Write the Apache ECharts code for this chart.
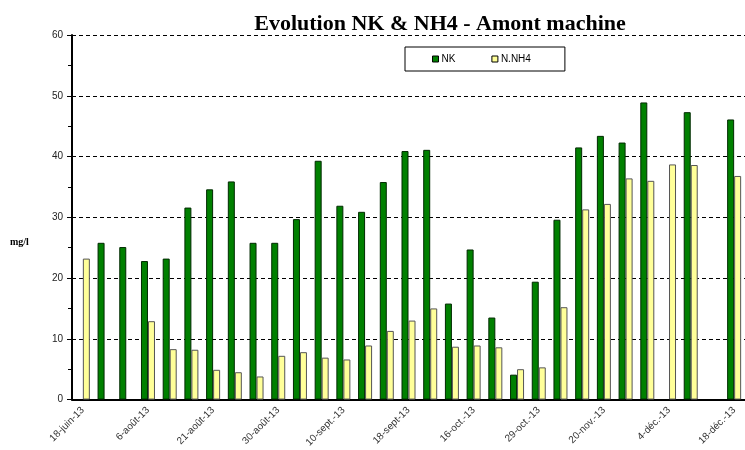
<!DOCTYPE html>
<html>
<head>
<meta charset="utf-8">
<script src="https://cdn.jsdelivr.net/npm/echarts@6/dist/echarts.min.js"></script>
<style>
  html, body { margin: 0; padding: 0; background: #fff; }
  #chart { width: 745px; height: 450px; }
</style>
</head>
<body>
<div id="chart"></div>
<script>
// dates: only every 3rd one is printed on the axis
var categories = [
  '18-juin-13', '', '', '6-août-13', '', '', '21-août-13', '', '', '30-août-13', '', '',
  '10-sept.-13', '', '', '18-sept-13', '', '', '16-oct.-13', '', '', '29-oct.-13', '', '',
  '20-nov.-13', '', '', '4-déc.-13', '', '', '18-déc.-13'
]
var nkData = [
  null, 25.8, 25.1, 22.8, 23.2, 31.6, 34.6, 35.9, 25.8, 25.8, 29.7, 39.3, 31.9, 30.9, 35.8,
  40.9, 41.1, 15.8, 24.7, 13.5, 4.1, 19.4, 29.6, 41.5, 43.4, 42.3, 48.9, null, 47.3, null, 46.1
]
var nh4Data = [
  23.2, null, null, 12.9, 8.3, 8.2, 4.9, 4.5, 3.8, 7.2, 7.8, 6.9, 6.6, 8.9, 11.3,
  13.0, 15.0, 8.7, 8.9, 8.6, 5.0, 5.3, 15.2, 31.3, 32.2, 36.4, 36.0, 38.7, 38.6, null, 36.8
]
var yTicks = { min: 0, max: 60, step: 10 }

var chart = echarts.init(document.getElementById('chart'))
var option = {
  animation: false,
  title: {
    text: 'Evolution NK & NH4 - Amont machine',
    left: 435,
    textAlign: 'center',
    top: 8,
    textStyle: {
      fontFamily: 'Liberation Serif',
      fontWeight: 'bold',
      fontSize: 22,
      color: '#000'
    }
  },
  graphic: [
    {
      type: 'text',
      left: 10,
      top: 237,
      style: {
        text: 'mg/l',
        font: 'bold 10px "Liberation Serif"',
        fill: '#000'
      }
    }
  ],
  legend: {
    data: ['NK', 'N.NH4'],
    left: 405,
    top: 47,
    padding: [7, 34, 7, 27],
    itemGap: 36,
    itemWidth: 6,
    itemHeight: 6,
    icon: 'rect',
    borderColor: '#000',
    borderWidth: 1,
    itemStyle: { borderColor: '#000', borderWidth: 1 },
    textStyle: { fontFamily: 'Liberation Sans', fontSize: 10, color: '#000', padding: [0, 0, 0, -2] }
  },
  grid: {
    left: 72,
    top: 35,
    right: -10,
    bottom: 48
  },
  xAxis: {
    type: 'category',
    data: categories,
    axisLine: { lineStyle: { color: '#000', width: 2 } },
    axisTick: { interval: 0, length: 4, lineStyle: { color: '#000', width: 1 } },
    axisLabel: {
      interval: 2,
      rotate: 45,
      margin: 9,
      fontFamily: 'Liberation Sans',
      fontSize: 10,
      color: '#333'
    }
  },
  yAxis: {
    type: 'value',
    min: yTicks.min,
    max: yTicks.max,
    interval: yTicks.step,
    axisLine: { show: true, lineStyle: { color: '#000', width: 2 } },
    axisTick: { show: true, length: 5, lineStyle: { color: '#000' } },
    minorTick: { show: true, splitNumber: 2, length: 4, lineStyle: { color: '#000' } },
    axisLabel: { fontFamily: 'Liberation Sans', fontSize: 10, color: '#222', margin: 9 },
    splitLine: { lineStyle: { color: '#000', type: [4, 3], width: 1 } }
  },
  series: [
    {
      name: 'NK',
      type: 'bar',
      data: nkData,
      barWidth: 7,
      barGap: '0%',
      itemStyle: { color: '#008000', borderColor: '#002a00', borderWidth: 1 }
    },
    {
      name: 'N.NH4',
      type: 'bar',
      data: nh4Data,
      barWidth: 7,
      itemStyle: { color: '#ffff99', borderColor: '#555', borderWidth: 1 }
    }
  ]
}
chart.setOption(option)
</script>
</body>
</html>
